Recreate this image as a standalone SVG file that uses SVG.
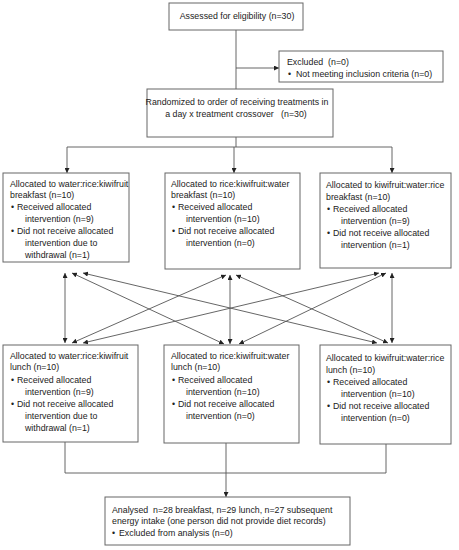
<svg xmlns="http://www.w3.org/2000/svg" width="459" height="550" viewBox="0 0 459 550">
<defs>
<marker id="ah" viewBox="0 0 10 10" refX="10" refY="5" markerWidth="5" markerHeight="5" markerUnits="userSpaceOnUse" orient="auto-start-reverse">
<path d="M0,0 L10,5 L0,10 z" fill="#222"/>
</marker>
<style>
.box{fill:#fff;stroke:#666;stroke-width:1}
.t{font-family:"Liberation Sans",Arial,sans-serif;font-size:8.8px;fill:#222;white-space:pre}
.c{text-anchor:middle}
.ln{fill:none;stroke:#555;stroke-width:0.9}
.a1{marker-end:url(#ah)}
.a2{marker-start:url(#ah);marker-end:url(#ah)}
</style>
</defs>
<rect width="459" height="550" fill="#fff"/>
<g id="connectors">
<path class="ln" d="M236,30 V89"/>
<path class="ln a1" d="M236,68 H279"/>
<path class="ln" d="M236,137 V147 M67,147 H392"/>
<path class="ln a1" d="M67,147 V173"/>
<path class="ln a1" d="M234,147 V173"/>
<path class="ln a1" d="M392,147 V173"/>
<path class="ln a2" d="M65,273 L65,343"/>
<path class="ln a2" d="M230,275 L230,344"/>
<path class="ln a2" d="M392,273 L392,343"/>
<path class="ln a2" d="M72,273 L224,344"/>
<path class="ln a2" d="M83,273 L377,343"/>
<path class="ln a2" d="M226,275 L72,343"/>
<path class="ln a2" d="M236,275 L388,343"/>
<path class="ln a2" d="M379,273 L83,343"/>
<path class="ln a2" d="M386,273 L239,344"/>
<path class="ln" d="M65,442 V473 H386 V444"/>
<path class="ln a1" d="M226,443 V497"/>
</g>
<g id="assessed">
<rect class="box" x="169" y="3" width="134" height="27"/>
<text class="t c" x="237" y="19">Assessed for eligibility (n=30)</text>
</g>
<g id="excluded">
<rect class="box" x="279" y="51" width="164" height="31"/>
<text class="t" x="287" y="65">Excluded  (n=0)</text>
<text class="t" x="288" y="77">•  Not meeting inclusion criteria (n=0)</text>
</g>
<g id="randomized">
<rect class="box" x="147" y="89" width="186" height="48"/>
<text class="t c" x="237" y="105">Randomized to order of receiving treatments in</text>
<text class="t c" x="236" y="117">a day x treatment crossover   (n=30)</text>
</g>
<g id="b1">
<rect class="box" x="3" y="173" width="126" height="89"/>
<text class="t" x="10" y="187">Allocated to water:rice:kiwifruit</text>
<text class="t" x="10" y="198">breakfast (n=10)</text>
<text class="t" x="11" y="210">•</text><text class="t" x="17" y="210">Received allocated</text>
<text class="t" x="25" y="222">intervention (n=9)</text>
<text class="t" x="11" y="234">•</text><text class="t" x="17" y="234">Did not receive allocated</text>
<text class="t" x="25" y="246">intervention due to</text>
<text class="t" x="25" y="258">withdrawal (n=1)</text>
</g>
<g id="b2">
<rect class="box" x="165" y="173" width="135" height="96"/>
<text class="t" x="171" y="187">Allocated to rice:kiwifruit:water</text>
<text class="t" x="171" y="198">breakfast (n=10)</text>
<text class="t" x="172" y="210">•</text><text class="t" x="178" y="210">Received allocated</text>
<text class="t" x="186" y="222">intervention (n=10)</text>
<text class="t" x="172" y="234">•</text><text class="t" x="178" y="234">Did not receive allocated</text>
<text class="t" x="186" y="246">intervention (n=0)</text>
</g>
<g id="b3">
<rect class="box" x="320" y="173" width="131" height="95"/>
<text class="t" x="326" y="188">Allocated to kiwifruit:water:rice</text>
<text class="t" x="326" y="200">breakfast (n=10)</text>
<text class="t" x="327" y="212">•</text><text class="t" x="333" y="212">Received allocated</text>
<text class="t" x="341" y="224">intervention (n=9)</text>
<text class="t" x="327" y="236">•</text><text class="t" x="333" y="236">Did not receive allocated</text>
<text class="t" x="341" y="248">intervention (n=1)</text>
</g>
<g id="l1">
<rect class="box" x="3" y="345" width="135" height="97"/>
<text class="t" x="10" y="359">Allocated to water:rice:kiwifruit</text>
<text class="t" x="10" y="370">lunch (n=10)</text>
<text class="t" x="11" y="383">•</text><text class="t" x="17" y="383">Received allocated</text>
<text class="t" x="25" y="395">intervention (n=9)</text>
<text class="t" x="11" y="407">•</text><text class="t" x="17" y="407">Did not receive allocated</text>
<text class="t" x="25" y="419">intervention due to</text>
<text class="t" x="25" y="431">withdrawal (n=1)</text>
</g>
<g id="l2">
<rect class="box" x="164" y="345" width="135" height="98"/>
<text class="t" x="171" y="359">Allocated to rice:kiwifruit:water</text>
<text class="t" x="171" y="370">lunch (n=10)</text>
<text class="t" x="172" y="383">•</text><text class="t" x="178" y="383">Received allocated</text>
<text class="t" x="186" y="395">intervention (n=10)</text>
<text class="t" x="172" y="407">•</text><text class="t" x="178" y="407">Did not receive allocated</text>
<text class="t" x="186" y="419">intervention (n=0)</text>
</g>
<g id="l3">
<rect class="box" x="320" y="345" width="131" height="99"/>
<text class="t" x="326" y="361">Allocated to kiwifruit:water:rice</text>
<text class="t" x="326" y="373">lunch (n=10)</text>
<text class="t" x="327" y="385">•</text><text class="t" x="333" y="385">Received allocated</text>
<text class="t" x="341" y="397">intervention (n=10)</text>
<text class="t" x="327" y="409">•</text><text class="t" x="333" y="409">Did not receive allocated</text>
<text class="t" x="341" y="421">intervention (n=0)</text>
</g>
<g id="analysed">
<rect class="box" x="105" y="497" width="245" height="48"/>
<text class="t" x="112" y="513">Analysed  n=28 breakfast, n=29 lunch, n=27 subsequent</text>
<text class="t" x="112" y="524">energy intake (one person did not provide diet records)</text>
<text class="t" x="112" y="536">•</text><text class="t" x="119" y="536">Excluded from analysis (n=0)</text>
</g>
</svg>
